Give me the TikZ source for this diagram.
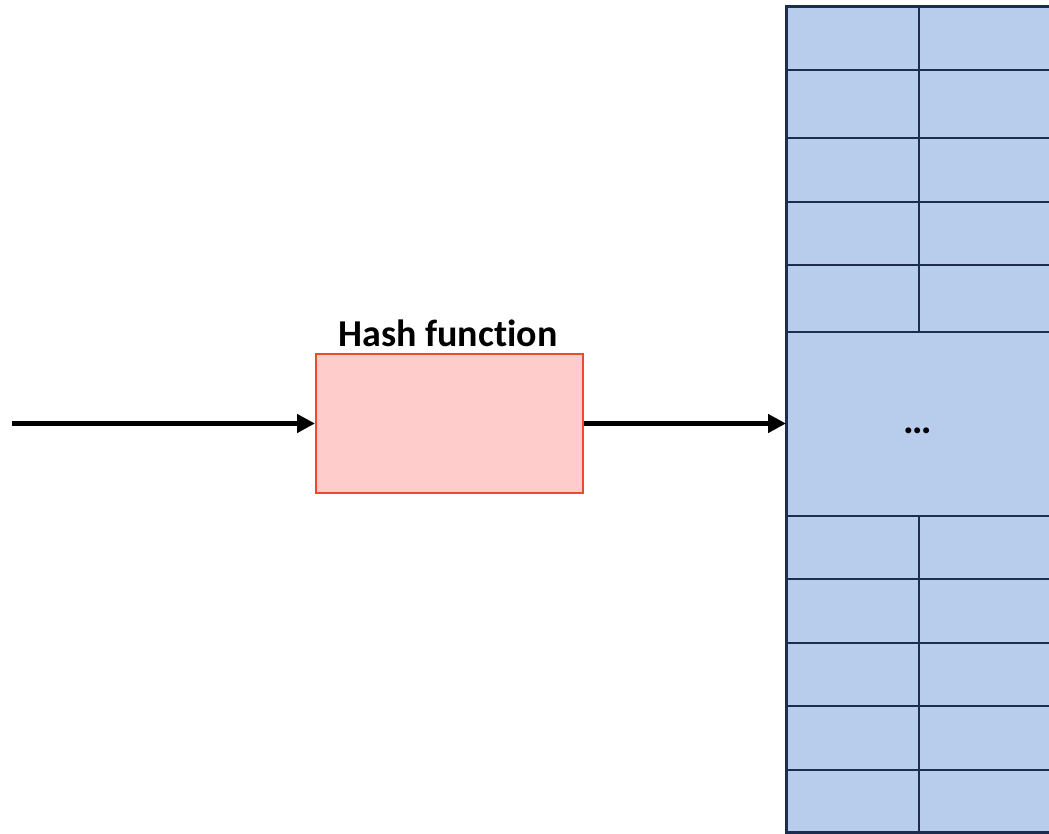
\documentclass[tikz,border=0pt]{standalone}
\usepackage{fontspec}
\setmainfont[Ligatures={NoCommon,NoRare,NoContextual}]{Carlito}
\usetikzlibrary{arrows.meta}
\definecolor{cellfill}{HTML}{B8CDEB}
\definecolor{cellline}{HTML}{1C2D4E}
\definecolor{hashfill}{HTML}{FFCCCC}
\definecolor{hashline}{HTML}{EA4B2C}
\tikzset{
  cell/.style={draw=cellline, fill=cellfill, line width=2pt},
  outer/.style={draw=cellline, line width=3pt},
  hashbox/.style={draw=hashline, fill=hashfill, line width=2pt, minimum width=267pt, minimum height=139pt, inner sep=0pt},
  conn/.style={line width=5pt, -{Triangle[length=18pt,width=18pt]}},
}
\begin{document}
\begin{tikzpicture}[x=1pt,y=-1pt]
\useasboundingbox (0,0) rectangle (1049,834);
\clip (0,0) rectangle (1049,834);
% table
\foreach \a/\b in {7/70,70/138,138/202,202/265,265/332,516/579,579/643,643/706,706/770,770/833}{
  \draw[cell] (786,\a) rectangle (919,\b);
  \draw[cell] (919,\a) rectangle (1070,\b);
}
\draw[cell] (786,332) rectangle (1070,516);
\draw[outer] (786,7) rectangle (1070,832.5);
\node[font=\bfseries\fontsize{40}{40}\selectfont] (dots) at (918,431) {\ldots};
\coordinate (tbl) at (786,423.5);
% hash function
\node[hashbox] (hash) at (449.5,423.5) {};
\node[font=\bfseries\fontsize{38}{38}\selectfont, anchor=base] (hl) at (448,346) {Hash function};
\coordinate (in) at (12,423.5);
\draw[conn] (in) -- (hash.west);
\draw[conn] (hash.east) -- (tbl);
\end{tikzpicture}
\end{document}
